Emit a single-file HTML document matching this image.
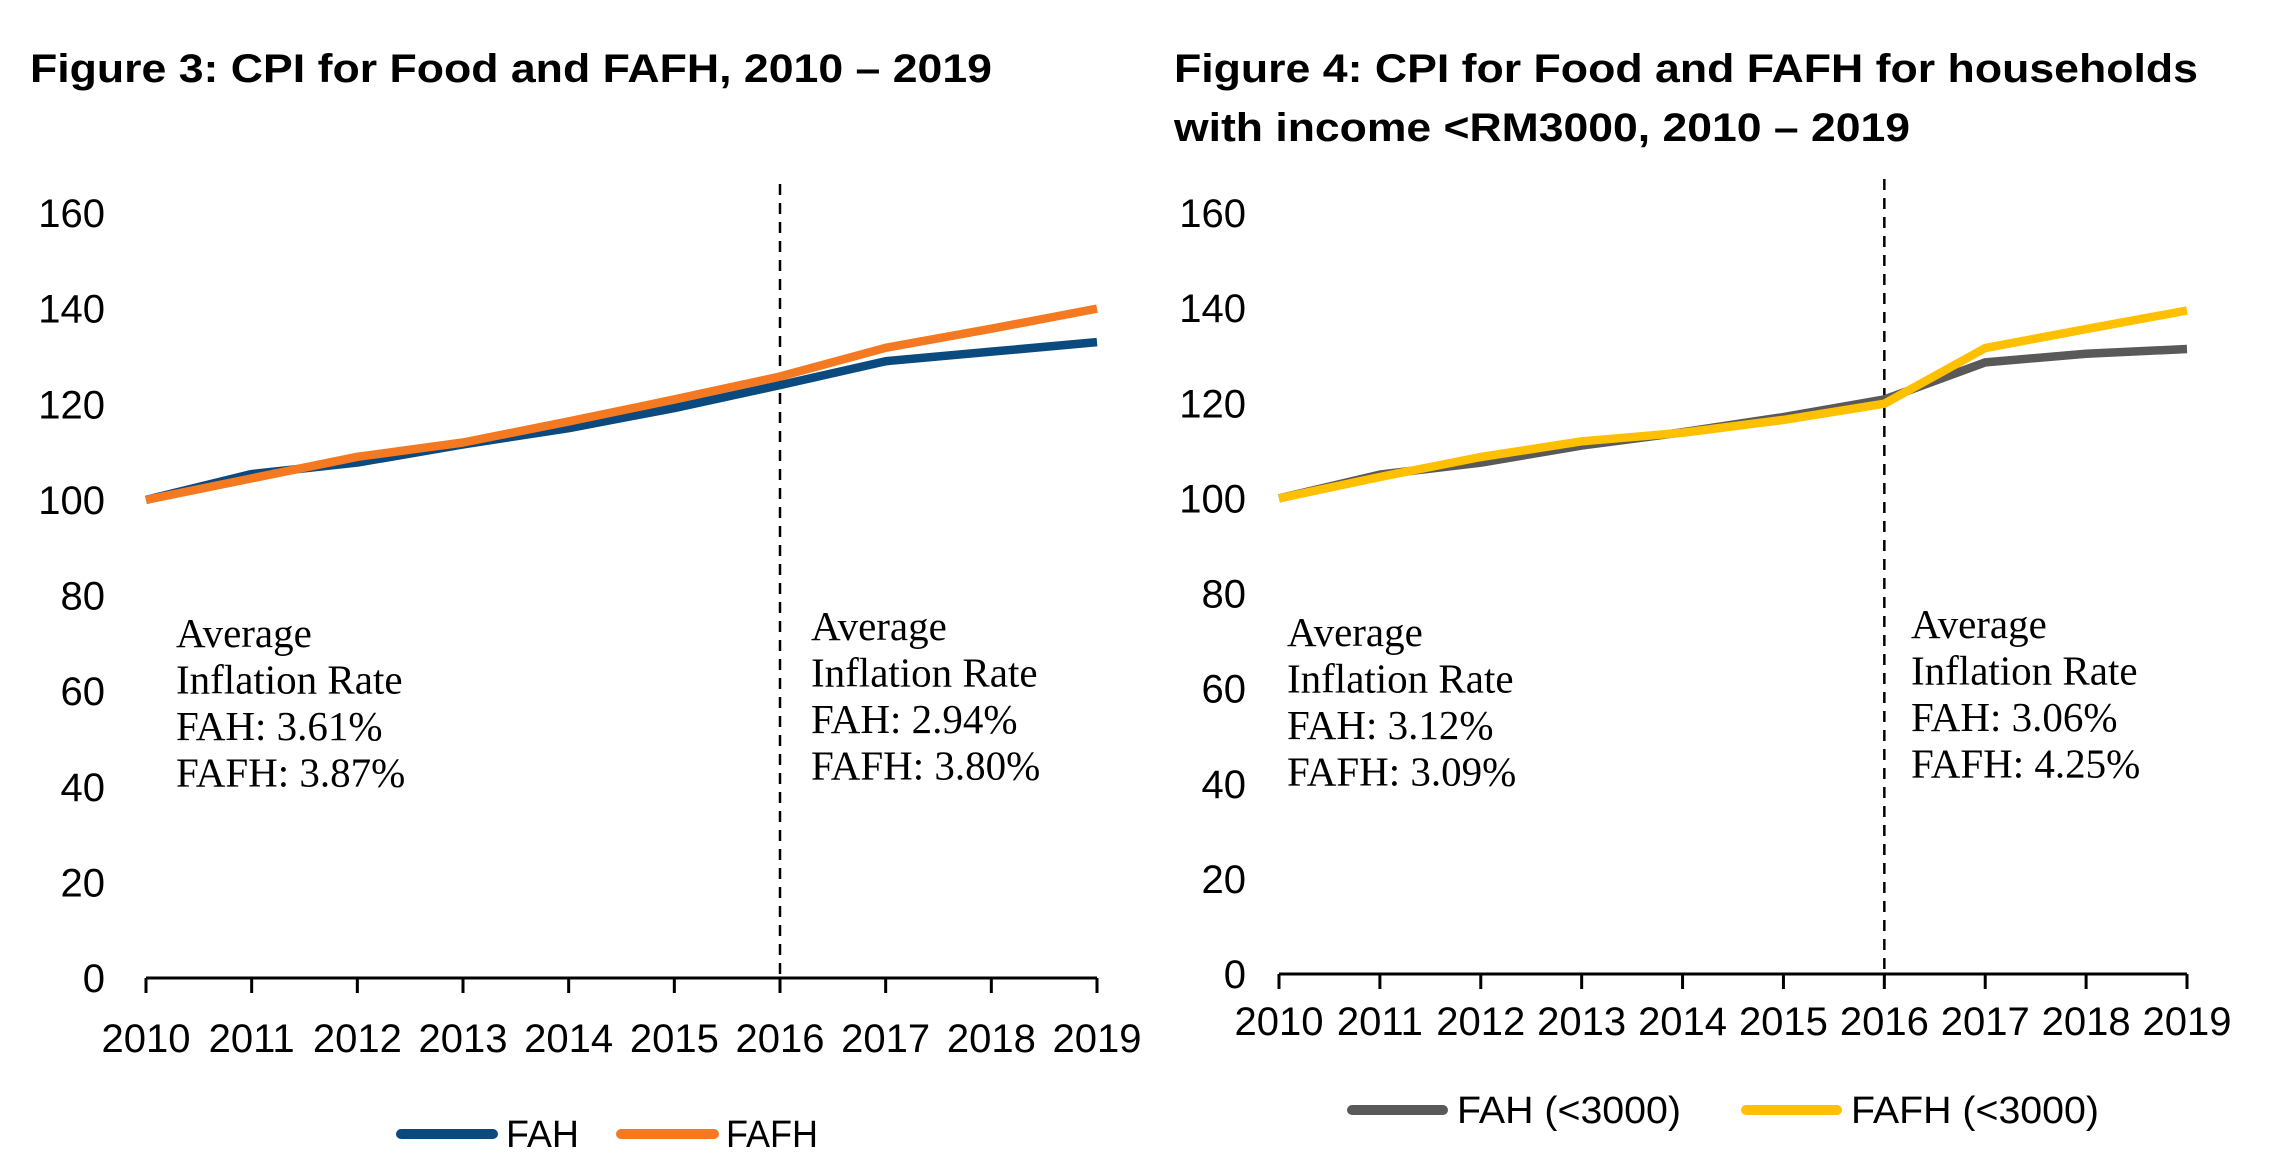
<!DOCTYPE html>
<html><head><meta charset="utf-8"><style>
html,body{margin:0;padding:0;background:#fff;}
svg{display:block;}
.t{font-family:"Liberation Sans",Arial,sans-serif;font-weight:bold;font-size:40px;fill:#000;}
.ax{font-family:"Liberation Sans",Arial,sans-serif;font-size:40px;fill:#000;}
.an{font-family:"Liberation Serif","DejaVu Serif",serif;font-size:41px;fill:#000;}
.lg{font-family:"Liberation Sans",Arial,sans-serif;font-size:38px;fill:#000;}
</style></head><body>
<svg id="root" width="2282" height="1156" viewBox="0 0 2282 1156" xmlns="http://www.w3.org/2000/svg">
<text class="t" x="30" y="82" textLength="962" lengthAdjust="spacingAndGlyphs">Figure 3: CPI for Food and FAFH, 2010 – 2019</text>
<text class="t" x="1174" y="82" textLength="1024" lengthAdjust="spacingAndGlyphs">Figure 4: CPI for Food and FAFH for households</text>
<text class="t" x="1174" y="141" textLength="736" lengthAdjust="spacingAndGlyphs">with income &lt;RM3000, 2010 – 2019</text>
<g id="c1"></g>
<g id="c2"></g>
</svg>
<script>
const years = [2010,2011,2012,2013,2014,2015,2016,2017,2018,2019];
const yTicks = [0,20,40,60,80,100,120,140,160];
const fah1 = [100,105.4,107.8,111.6,115,119.2,124,129,131,133];
const fafh1 = [100,104.5,109,112,116.4,121,125.8,131.8,135.8,140];
const fah2 = [100,105,107.5,111.1,113.9,117.1,120.8,128.6,130.4,131.4];
const fafh2 = [100,104.5,108.7,112,113.8,116.5,119.9,131.6,135.6,139.5];
const ann1L = ["Average","Inflation Rate","FAH: 3.61%","FAFH: 3.87%"];
const ann1R = ["Average","Inflation Rate","FAH: 2.94%","FAFH: 3.80%"];
const ann2L = ["Average","Inflation Rate","FAH: 3.12%","FAFH: 3.09%"];
const ann2R = ["Average","Inflation Rate","FAH: 3.06%","FAFH: 4.25%"];
const NS='http://www.w3.org/2000/svg';
function mk(parent,tag,attrs,text){const e=document.createElementNS(NS,tag);for(const k in attrs)e.setAttribute(k,attrs[k]);if(text!==undefined)e.textContent=text;parent.appendChild(e);return e;}
function chart(g,cfg){
  const x=i=>cfg.x0+(cfg.x1-cfg.x0)*i/(years.length-1);
  const y=v=>cfg.y0-(cfg.y0-cfg.yTop)*v/160;
  yTicks.forEach(v=>{const t=mk(g,'text',{class:'ax',x:cfg.yl,y:y(v)+14,'text-anchor':'end'},String(v));
    
    });
  const axis=mk(g,'line',{x1:cfg.x0,x2:cfg.x1,y1:cfg.y0,y2:cfg.y0,stroke:'#000','stroke-width':3});
  
  
  years.forEach((yr,i)=>{
    const tk=mk(g,'line',{x1:x(i),x2:x(i),y1:cfg.y0,y2:cfg.y0+15,stroke:'#000','stroke-width':3});
    
    
    const t=mk(g,'text',{class:'ax',x:x(i),y:cfg.xly,'text-anchor':'middle'},String(yr));
    
    
  });
  const di=years.indexOf(2016);
  const d=mk(g,'line',{x1:x(di),x2:x(di),y1:cfg.dTop,y2:cfg.y0,stroke:'#000','stroke-width':2.5,'stroke-dasharray':'11,8'});
  
  
  cfg.series.forEach(s=>{
    const p=mk(g,'polyline',{points:s.v.map((v,i)=>x(i)+','+y(v)).join(' '),fill:'none',stroke:s.c,'stroke-width':8.5,'stroke-linejoin':'round','stroke-linecap':'butt'});
    
    
  });
  cfg.ann.forEach(a=>{a.lines.forEach((l,k)=>{
    const t=mk(g,'text',{class:'an',x:a.x,y:a.y+k*46.5},l);
    
    
  });});
  cfg.legend.forEach(l=>{
    const ln=mk(g,'line',{x1:l.x1,x2:l.x2,y1:l.y,y2:l.y,stroke:l.c,'stroke-width':10,'stroke-linecap':'round'});
    
    
    const t=mk(g,'text',{class:'lg',x:l.tx,y:l.y+13,textLength:l.tw,lengthAdjust:'spacingAndGlyphs'},l.label);
    
    
  });
}
chart(document.getElementById('c1'),{x0:146,x1:1097,y0:978,yTop:213,yl:105,xly:1052,dTop:184,
  series:[{v:fah1,c:'#0b4a7f',name:'fah-line'},{v:fafh1,c:'#f47920',name:'fafh-line'}],
  ann:[{x:176,y:647,lines:ann1L},{x:811,y:640,lines:ann1R}],
  legend:[{x1:401,x2:493,y:1134,c:'#0b4a7f',tx:506,tw:73,label:'FAH'},{x1:621,x2:714,y:1134,c:'#f47920',tx:726,tw:92,label:'FAFH'}]});
chart(document.getElementById('c2'),{x0:1279,x1:2187,y0:974,yTop:213,yl:1246,xly:1035,dTop:179,
  series:[{v:fah2,c:'#595959',name:'fah-under-3000-line'},{v:fafh2,c:'#ffc000',name:'fafh-under-3000-line'}],
  ann:[{x:1287,y:646,lines:ann2L},{x:1911,y:638,lines:ann2R}],
  legend:[{x1:1352,x2:1443,y:1110,c:'#595959',tx:1457,tw:224,label:'FAH (<3000)'},{x1:1746,x2:1837,y:1110,c:'#ffc000',tx:1851,tw:248,label:'FAFH (<3000)'}]});
</script>
</body></html>
